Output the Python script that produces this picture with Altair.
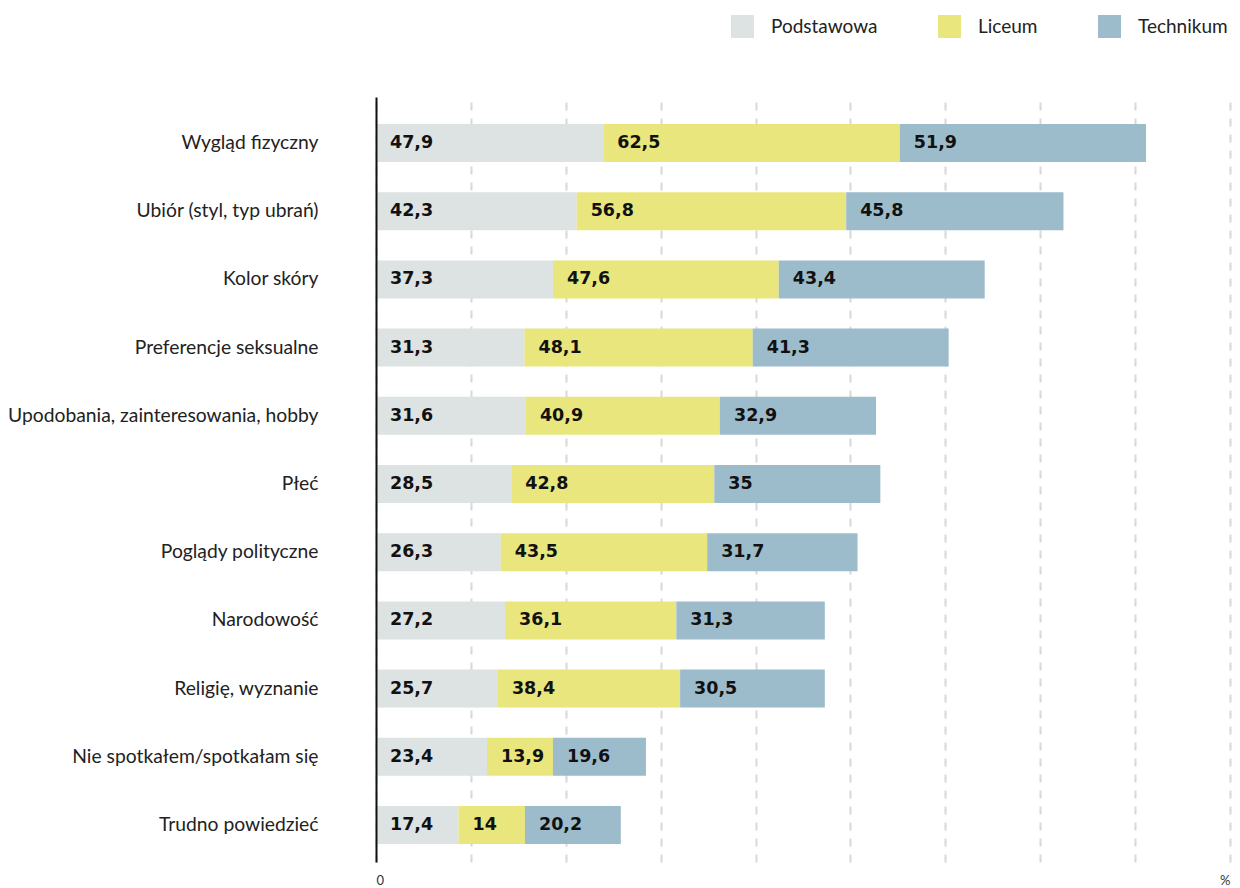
import altair as alt
import pandas as pd

categories = [
    "Wygląd fizyczny",
    "Ubiór (styl, typ ubrań)",
    "Kolor skóry",
    "Preferencje seksualne",
    "Upodobania, zainteresowania, hobby",
    "Płeć",
    "Poglądy polityczne",
    "Narodowość",
    "Religię, wyznanie",
    "Nie spotkałem/spotkałam się",
    "Trudno powiedzieć",
]
series = ["Podstawowa", "Liceum", "Technikum"]
podstawowa = [47.9, 42.3, 37.3, 31.3, 31.6, 28.5, 26.3, 27.2, 25.7, 23.4, 17.4]
liceum = [62.5, 56.8, 47.6, 48.1, 40.9, 42.8, 43.5, 36.1, 38.4, 13.9, 14]
technikum = [51.9, 45.8, 43.4, 41.3, 32.9, 35, 31.7, 31.3, 30.5, 19.6, 20.2]
colors = ["#dde2e2", "#e8e67c", "#9dbccb"]
x_ticks = [0, 20, 40, 60, 80, 100, 120, 140, 160, 180]

rows = []
for s_i, (name, vals) in enumerate(zip(series, [podstawowa, liceum, technikum])):
    for cat, v in zip(categories, vals):
        rows.append({"category": cat, "series": name, "order": s_i, "value": v})
df = pd.DataFrame(rows)

FONT = "Lato"

base = alt.Chart(df).transform_stack(
    stack="value",
    groupby=["category"],
    as_=["x0", "x1"],
    sort=[alt.SortField("order", order="ascending")],
)

y_enc = alt.Y(
    "category:N",
    sort=categories,
    scale=alt.Scale(paddingInner=0.443, paddingOuter=0.33, align=0.6),
    axis=alt.Axis(
        title=None,
        domain=True,
        domainColor="#111111",
        domainWidth=2,
        ticks=False,
        grid=False,
        labelPadding=58,
        labelFont=FONT,
        labelFontSize=19.3,
        labelColor="#222222",
        labelLimit=0,
        zindex=1,
    ),
)

bars = base.mark_bar().encode(
    y=y_enc,
    x=alt.X(
        "x0:Q",
        scale=alt.Scale(domain=[0, 180], nice=False, zero=True),
        axis=alt.Axis(
            title=None,
            values=x_ticks,
            labelExpr="datum.value == 0 ? '0' : (datum.value == 180 ? '%' : '')",
            grid=True,
            gridDash=[8, 8],
            gridColor="#d8d8d8",
            gridWidth=2,
            domain=False,
            ticks=False,
            labelFont=FONT,
            labelFontSize=13,
            labelColor="#333333",
            labelPadding=12,
        ),
    ),
    x2="x1:Q",
    color=alt.Color(
        "series:N",
        scale=alt.Scale(domain=series, range=colors),
        legend=alt.Legend(
            title=None,
            orient="none",
            legendX=355,
            legendY=-82,
            direction="horizontal",
            symbolType="square",
            symbolSize=529,
            symbolStrokeWidth=0,
            symbolOpacity=1,
            labelFont=FONT,
            labelFontSize=19,
            labelColor="#222222",
            labelOffset=17,
            columnPadding=60,
            padding=0,
        ),
    ),
)

text = base.transform_calculate(
    label="replace(toString(datum.value), '.', ',')"
).mark_text(
    align="left",
    baseline="middle",
    dx=14,
    font="DejaVu Sans",
    fontWeight="bold",
    fontSize=17.5,
    color="#111111",
).encode(
    y=alt.Y("category:N", sort=categories),
    x=alt.X("x0:Q"),
    text="label:N",
)

chart = alt.layer(bars, text).properties(
    width=854,
    height=765,
    background="white",
    autosize=alt.AutoSizeParams(type="none"),
    padding={"left": 368, "top": 89, "right": 2, "bottom": 26},
).configure_view(stroke=None)

chart.save("out.html", embed_options={"renderer": "svg", "actions": False})
